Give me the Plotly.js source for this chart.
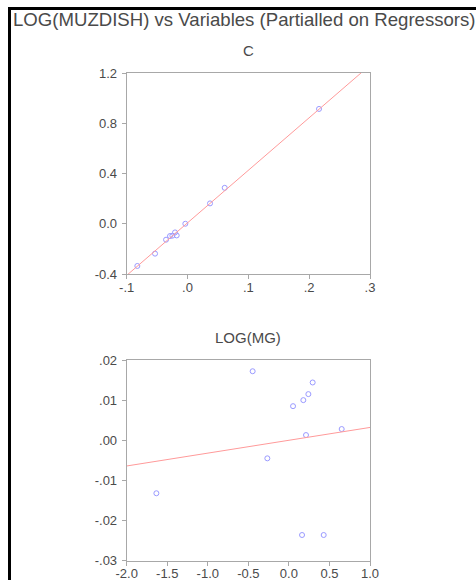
<!DOCTYPE html>
<html>
<head>
<meta charset="utf-8">
<script src="https://cdn.plot.ly/plotly-3.0.1.min.js"></script>
<style>
html,body{margin:0;padding:0;background:#fff;}
#chart{width:476px;height:580px;}
</style>
</head>
<body>
<div id="chart"></div>
<script>
// ---- Data ----
const chartTitle = "LOG(MUZDISH) vs Variables (Partialled on Regressors)";
const panelTitles = ["C", "LOG(MG)"];

// Panel 1: C
const cX = [-0.0825, -0.0534, -0.0353, -0.0288, -0.0249, -0.0205, -0.0178, -0.0036, 0.0370, 0.0611, 0.2162];
const cY = [-0.336, -0.238, -0.127, -0.098, -0.095, -0.069, -0.093, 0.000, 0.162, 0.286, 0.914];
const cLineX = [-0.1, 0.3];
const cLineY = [-0.411, 1.262];
const cTickVals = [-0.1, 0.0, 0.1, 0.2, 0.3];
const cTickText = ["-.1", ".0", ".1", ".2", ".3"];
const cYTickVals = [-0.4, 0.0, 0.4, 0.8, 1.2];
const cYTickText = ["-0.4", "0.0", "0.4", "0.8", "1.2"];

// Panel 2: LOG(MG)
const mgX = [-1.634, -0.447, -0.266, 0.051, 0.178, 0.211, 0.240, 0.293, 0.162, 0.429, 0.651];
const mgY = [-0.0132, 0.0172, -0.0045, 0.0085, 0.0100, 0.0013, 0.0115, 0.0144, -0.0236, -0.0236, 0.0028];
const mgLineX = [-2.0, 1.0];
const mgLineY = [-0.0064, 0.0032];
const mgTickVals = [-2.0, -1.5, -1.0, -0.5, 0.0, 0.5, 1.0];
const mgTickText = ["-2.0", "-1.5", "-1.0", "-0.5", "0.0", "0.5", "1.0"];
const mgYTickVals = [-0.03, -0.02, -0.01, 0.00, 0.01, 0.02];
const mgYTickText = ["-.03", "-.02", "-.01", ".00", ".01", ".02"];

// ---- Styles ----
const W = 476, H = 580;
const pointColor = "#9a9aff";
const lineColor = "#ff9a9a";
const axisColor = "#a8a8a8";
const textColor = "#4a4a4a";
const font = "Liberation Sans, Arial, sans-serif";

function axisBase(extra) {
  return Object.assign({
    showline: true, mirror: true, linecolor: axisColor, linewidth: 1,
    ticks: "outside", ticklen: 4, tickcolor: axisColor, tickwidth: 1,
    showgrid: false, zeroline: false, fixedrange: true,
    tickmode: "array", ticklabelstandoff: 2,
    tickfont: {family: font, size: 13, color: textColor}
  }, extra);
}

const traces = [
  {x: cX, y: cY, type: "scatter", mode: "markers", xaxis: "x", yaxis: "y",
   marker: {symbol: "circle-open", size: 5, color: pointColor, line: {width: 1, color: pointColor}},
   hoverinfo: "skip", cliponaxis: false},
  {x: cLineX, y: cLineY, type: "scatter", mode: "lines", xaxis: "x", yaxis: "y",
   line: {color: lineColor, width: 1}, hoverinfo: "skip"},
  {x: mgX, y: mgY, type: "scatter", mode: "markers", xaxis: "x2", yaxis: "y2",
   marker: {symbol: "circle-open", size: 5, color: pointColor, line: {width: 1, color: pointColor}},
   hoverinfo: "skip", cliponaxis: false},
  {x: mgLineX, y: mgLineY, type: "scatter", mode: "lines", xaxis: "x2", yaxis: "y2",
   line: {color: lineColor, width: 1}, hoverinfo: "skip"}
];

const xDom = [126.7 / W, 370 / W];
const layout = {
  width: W, height: H,
  margin: {l: 0, r: 0, t: 0, b: 0},
  paper_bgcolor: "#ffffff", plot_bgcolor: "#ffffff",
  showlegend: false,
  xaxis: axisBase({domain: xDom, anchor: "y", range: [-0.1, 0.3], tickvals: cTickVals, ticktext: cTickText, ticklabelstandoff: -3}),
  yaxis: axisBase({domain: [1 - 274 / H, 1 - 73 / H], anchor: "x", range: [-0.4, 1.2], tickvals: cYTickVals, ticktext: cYTickText}),
  xaxis2: axisBase({domain: xDom, anchor: "y2", range: [-2.0, 1.0], tickvals: mgTickVals, ticktext: mgTickText, ticklabelstandoff: -3}),
  yaxis2: axisBase({domain: [1 - 560.7 / H, 1 - 360 / H], anchor: "x2", range: [-0.03, 0.02], tickvals: mgYTickVals, ticktext: mgYTickText}),
  annotations: [
    {text: chartTitle, xref: "paper", yref: "paper", x: 11 / W, y: 1 - 19.5 / H,
     xanchor: "left", yanchor: "middle", showarrow: false,
     font: {family: font, size: 18.6, color: textColor}},
    {text: panelTitles[0], xref: "paper", yref: "paper", x: 248 / W, y: 1 - 50 / H,
     xanchor: "center", yanchor: "middle", showarrow: false,
     font: {family: font, size: 15, color: textColor}},
    {text: panelTitles[1], xref: "paper", yref: "paper", x: 248 / W, y: 1 - 337 / H,
     xanchor: "center", yanchor: "middle", showarrow: false,
     font: {family: font, size: 15, color: textColor}}
  ],
  shapes: [
    {type: "line", xref: "paper", yref: "paper", x0: 8 / W, x1: 1, y0: 1 - 8.5 / H, y1: 1 - 8.5 / H,
     line: {color: "#000", width: 3}},
    {type: "line", xref: "paper", yref: "paper", x0: 9.5 / W, x1: 9.5 / W, y0: 0, y1: 1 - 7 / H,
     line: {color: "#000", width: 3}}
  ]
};

Plotly.newPlot("chart", traces, layout, {displayModeBar: false, staticPlot: true});
</script>
</body>
</html>
